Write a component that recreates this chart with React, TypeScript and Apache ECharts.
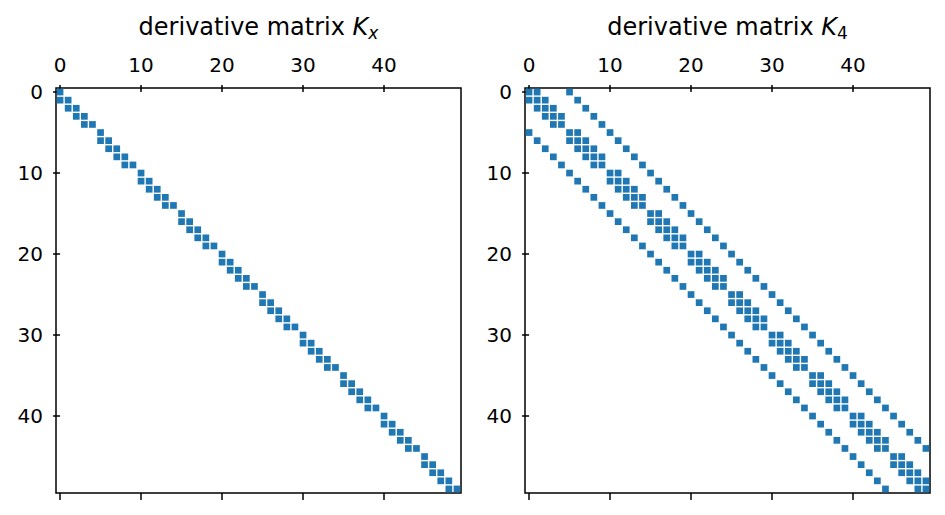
import React, { useEffect, useRef } from "react";
import * as echarts from "echarts";

// Non-zero column indices per row (row index = array index)
const kxRows: number[][] = [
  [0], [0, 1], [1, 2], [2, 3], [3, 4],
  [5], [5, 6], [6, 7], [7, 8], [8, 9],
  [10], [10, 11], [11, 12], [12, 13], [13, 14],
  [15], [15, 16], [16, 17], [17, 18], [18, 19],
  [20], [20, 21], [21, 22], [22, 23], [23, 24],
  [25], [25, 26], [26, 27], [27, 28], [28, 29],
  [30], [30, 31], [31, 32], [32, 33], [33, 34],
  [35], [35, 36], [36, 37], [37, 38], [38, 39],
  [40], [40, 41], [41, 42], [42, 43], [43, 44],
  [45], [45, 46], [46, 47], [47, 48], [48, 49],
];

const k4Rows: number[][] = [
  [0, 1, 5], [0, 1, 2, 6], [1, 2, 3, 7], [2, 3, 4, 8], [3, 4, 9],
  [0, 5, 6, 10], [1, 5, 6, 7, 11], [2, 6, 7, 8, 12], [3, 7, 8, 9, 13], [4, 8, 9, 14],
  [5, 10, 11, 15], [6, 10, 11, 12, 16], [7, 11, 12, 13, 17], [8, 12, 13, 14, 18], [9, 13, 14, 19],
  [10, 15, 16, 20], [11, 15, 16, 17, 21], [12, 16, 17, 18, 22], [13, 17, 18, 19, 23], [14, 18, 19, 24],
  [15, 20, 21, 25], [16, 20, 21, 22, 26], [17, 21, 22, 23, 27], [18, 22, 23, 24, 28], [19, 23, 24, 29],
  [20, 25, 26, 30], [21, 25, 26, 27, 31], [22, 26, 27, 28, 32], [23, 27, 28, 29, 33], [24, 28, 29, 34],
  [25, 30, 31, 35], [26, 30, 31, 32, 36], [27, 31, 32, 33, 37], [28, 32, 33, 34, 38], [29, 33, 34, 39],
  [30, 35, 36, 40], [31, 35, 36, 37, 41], [32, 36, 37, 38, 42], [33, 37, 38, 39, 43], [34, 38, 39, 44],
  [35, 40, 41, 45], [36, 40, 41, 42, 46], [37, 41, 42, 43, 47], [38, 42, 43, 44, 48], [39, 43, 44, 49],
  [40, 45, 46], [41, 45, 46, 47], [42, 46, 47, 48], [43, 47, 48, 49], [44, 48, 49],
];

const tickValues = [0, 10, 20, 30, 40];
const matrixSize = 50;
const titles = [
  "{n|derivative matrix }{k|K}{s|x}",
  "{n|derivative matrix }{k|K}{u|4}",
];

const toPoints = (rows: number[][]) => {
  const pts: number[][] = [];
  rows.forEach((cols, r) => cols.forEach((c) => pts.push([c, r])));
  return pts;
};

const FONT = "DejaVu Sans";

export default function App() {
  const ref = useRef<HTMLDivElement>(null);
  useEffect(() => {
    document.body.style.margin = "0";
    if (!ref.current) return;
    const chart = echarts.init(ref.current, null, { renderer: "svg" });
    const grids = [
      { left: 56, top: 88, width: 405, height: 405 },
      { left: 525, top: 88, width: 405, height: 405 },
    ];
    const tick = {
      show: true,
      length: 7,
      customValues: tickValues,
      lineStyle: { color: "#000", width: 1.5 },
    };
    const xAxes: any[] = [];
    const yAxes: any[] = [];
    grids.forEach((_, gi) => {
      ["top", "bottom"].forEach((pos) => {
        xAxes.push({
          type: "value",
          gridIndex: gi,
          position: pos,
          min: -0.5,
          max: matrixSize - 0.5,
          splitLine: { show: false },
          axisLine: { show: false },
          axisTick: tick,
          axisLabel: {
            show: pos === "top",
            customValues: tickValues,
            color: "#000",
            fontFamily: FONT,
            fontSize: 20,
            margin: 13,
          },
        });
      });
      yAxes.push({
        type: "value",
        gridIndex: gi,
        position: "left",
        inverse: true,
        min: -0.5,
        max: matrixSize - 0.5,
        splitLine: { show: false },
        axisLine: { show: false },
        axisTick: tick,
        axisLabel: {
          customValues: tickValues,
          color: "#000",
          fontFamily: FONT,
          fontSize: 20,
          margin: 13,
        },
      });
    });
    const rich = {
      n: { fontFamily: FONT, fontSize: 24, fontWeight: "normal", fill: "#000", color: "#000" },
      k: { fontFamily: FONT, fontSize: 24, fontWeight: "normal", fontStyle: "italic", fill: "#000", color: "#000" },
      s: { fontFamily: FONT, fontSize: 17, fontWeight: "normal", fontStyle: "italic", fill: "#000", color: "#000", padding: [12, 0, 0, 0] },
      u: { fontFamily: FONT, fontSize: 17, fontWeight: "normal", fill: "#000", color: "#000", padding: [12, 0, 0, 0] },
    };
    chart.setOption({
      animation: false,
      backgroundColor: "#fff",
      graphic: grids.map((g, i) => ({
        type: "text",
        x: g.left + g.width / 2,
        y: 27,
        style: {
          text: titles[i],
          rich,
          fill: "#000",
          align: "center",
          verticalAlign: "middle",
          textAlign: "center",
          textVerticalAlign: "middle",
        },
      })),
      grid: grids.map((g) => ({
        ...g,
        show: true,
        borderColor: "#000",
        borderWidth: 1.5,
        backgroundColor: "transparent",
      })),
      xAxis: xAxes,
      yAxis: yAxes,
      series: [
        {
          type: "scatter",
          xAxisIndex: 0,
          yAxisIndex: 0,
          symbol: "rect",
          symbolSize: 6.7,
          itemStyle: { color: "#1f77b4", opacity: 1 },
          data: toPoints(kxRows),
        },
        {
          type: "scatter",
          xAxisIndex: 2,
          yAxisIndex: 1,
          symbol: "rect",
          symbolSize: 6.7,
          itemStyle: { color: "#1f77b4", opacity: 1 },
          data: toPoints(k4Rows),
        },
      ],
    });
    return () => chart.dispose();
  }, []);
  return <div ref={ref} style={{ width: 945, height: 515 }} />;
}
